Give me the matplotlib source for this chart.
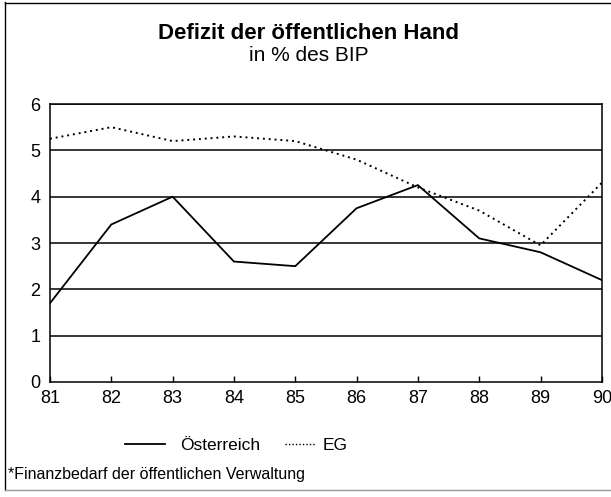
import matplotlib
matplotlib.use("Agg")
import matplotlib.pyplot as plt
from matplotlib.lines import Line2D

plt.rcParams['font.family'] = ['Liberation Sans', 'DejaVu Sans']

years = [81, 82, 83, 84, 85, 86, 87, 88, 89, 90]
oesterreich = [1.7, 3.4, 4.0, 2.6, 2.5, 3.75, 4.25, 3.1, 2.8, 2.2]
eg = [5.25, 5.5, 5.2, 5.3, 5.2, 4.8, 4.2, 3.7, 2.95, 4.3]
yticks = [0, 1, 2, 3, 4, 5, 6]
title = "Defizit der öffentlichen Hand"
subtitle = "in % des BIP"
footnote = "*Finanzbedarf der öffentlichen Verwaltung"

fig = plt.figure(figsize=(6.11, 4.97), dpi=100)
ax = fig.add_axes([0.0818, 0.2314, 0.9032, 0.5593])

for y in yticks[1:]:
    ax.axhline(y, color='black', lw=1.1, zorder=1)
ax.plot(years, oesterreich, color='black', lw=1.3, zorder=3)
ax.plot(years, eg, color='black', lw=1.4, linestyle=(0, (1, 2)), zorder=3)

ax.set_xlim(81, 90)
ax.set_ylim(0, 6)
ax.set_xticks(years)
ax.set_xticklabels([str(y) for y in years])
ax.set_yticks(yticks)
ax.tick_params(axis='x', direction='in', length=4, width=1, labelsize=13, pad=6)
ax.tick_params(axis='y', length=0, labelsize=13, pad=7)
for s in ax.spines.values():
    s.set_linewidth(1.1)

cx = 0.505
fig.text(cx, 0.922, title, ha='center', va='baseline', fontsize=16, fontweight='bold')
fig.text(cx, 0.877, subtitle, ha='center', va='baseline', fontsize=15)

fs = 12.5
fig.legend([Line2D([], [], color='black', lw=1.3)], ['Österreich'],
           loc='center left', bbox_to_anchor=(0.2046, 0.103), frameon=False,
           fontsize=fs, handlelength=2.3, handletextpad=0.85, borderpad=0, borderaxespad=0)
fig.legend([Line2D([], [], color='black', lw=1.0, linestyle=(0, (1, 1.5)))], ['EG'],
           loc='center left', bbox_to_anchor=(0.4664, 0.103), frameon=False,
           fontsize=fs, handlelength=1.75, handletextpad=0.4, borderpad=0, borderaxespad=0)

fig.text(0.013, 0.036, footnote, ha='left', va='baseline', fontsize=11.5)

fig.add_artist(Line2D([0.008, 0.008], [0.015, 0.995], transform=fig.transFigure, color='black', lw=1.0))
fig.add_artist(Line2D([0.008, 1.0], [0.993, 0.993], transform=fig.transFigure, color='black', lw=1.0))
fig.add_artist(Line2D([0.008, 1.0], [0.015, 0.015], transform=fig.transFigure, color='#999999', lw=1.0))

fig.savefig('out.png', dpi=100)
